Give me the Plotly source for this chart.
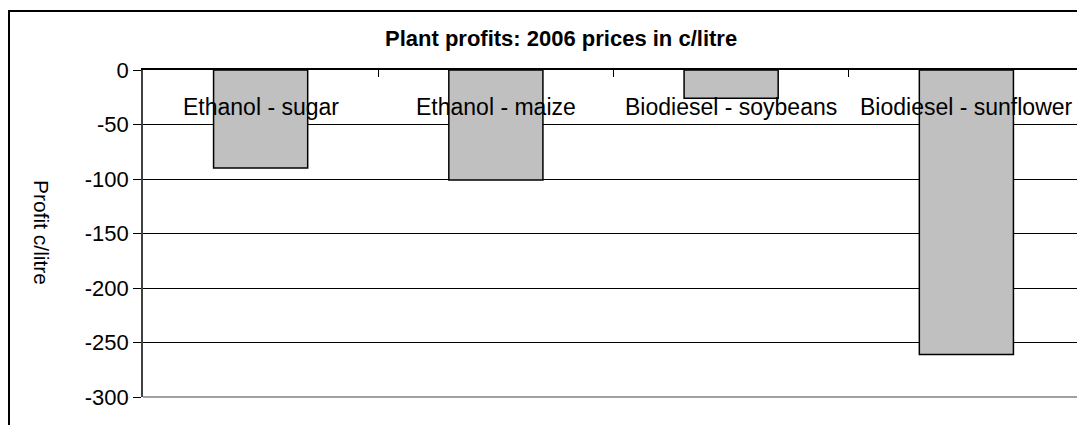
import plotly.graph_objects as go

categories = ["Ethanol - sugar", "Ethanol - maize", "Biodiesel - soybeans", "Biodiesel - sunflower"]
profits = [-90, -101, -26, -261]
y_ticks = [0, -50, -100, -150, -200, -250, -300]
title_text = "Plant profits: 2006 prices in c/litre"
y_title = "Profit c/litre"

OFF = 8  # default page body margin
W, H = 1085 - OFF, 425 - OFF
L, R, T, B = 143 - OFF, 1, 70 - OFF, 28
pw, ph = W - L - R, H - T - B

def px_x(x):
    return (x - OFF - L) / pw

def px_y(y):
    return (H - B - (y - OFF)) / ph

FONT = "Liberation Sans, Arial, sans-serif"

fig = go.Figure()
fig.add_trace(go.Bar(
    x=categories, y=profits,
    marker=dict(color="#C0C0C0", line=dict(color="#000000", width=1.5)),
    hoverinfo="x+y",
))

annotations = []
for c in categories:
    annotations.append(dict(
        x=c, xref="x", y=1, yref="paper", yanchor="middle", yshift=-37,
        text=c, showarrow=False, font=dict(family=FONT, size=23, color="black"),
    ))
annotations.append(dict(
    x=px_x(42), xref="paper", y=px_y(232), yref="paper",
    text=y_title, textangle=90, showarrow=False,
    xanchor="center", yanchor="middle",
    font=dict(family=FONT, size=21, color="black"),
))
annotations.append(dict(
    x=px_x(561), xref="paper", y=px_y(38), yref="paper",
    text="<b>" + title_text + "</b>", showarrow=False,
    xanchor="center", yanchor="middle",
    font=dict(family=FONT, size=22, color="black"),
))

shapes = [
    dict(type="line", xref="paper", yref="paper", x0=0, x1=1, y0=0, y1=0,
         line=dict(color="#808080", width=1.5), layer="above"),
    dict(type="line", xref="paper", yref="paper", x0=1, x1=1, y0=0, y1=1,
         line=dict(color="#808080", width=1.5), layer="above"),
    dict(type="rect", xref="paper", yref="paper",
         x0=px_x(9), x1=1.3, y0=-0.4, y1=px_y(11),
         line=dict(color="#000000", width=2), layer="above"),
]

fig.update_layout(
    width=W, height=H,
    margin=dict(l=L, r=R, t=T, b=B, pad=0),
    paper_bgcolor="white", plot_bgcolor="white",
    showlegend=False,
    bargap=0.6,
    annotations=annotations,
    shapes=shapes,
    font=dict(family=FONT, color="black"),
    xaxis=dict(
        type="category", side="top", showline=True, linecolor="black", linewidth=1.5,
        ticks="inside", ticklen=7, tickcolor="black", tickwidth=1,
        tickson="boundaries", showticklabels=False, showgrid=False, zeroline=False,
        fixedrange=True,
    ),
    yaxis=dict(
        range=[-300, 0], tickvals=y_ticks, ticktext=[str(v) for v in y_ticks],
        showgrid=True, gridcolor="black", gridwidth=1,
        showline=True, linecolor="#404040", linewidth=1.5,
        ticks="outside", ticklen=8, tickcolor="black", tickwidth=1,
        tickfont=dict(family=FONT, size=22, color="black"),
        zeroline=False, fixedrange=True,
    ),
)

fig.write_html("out.html")
